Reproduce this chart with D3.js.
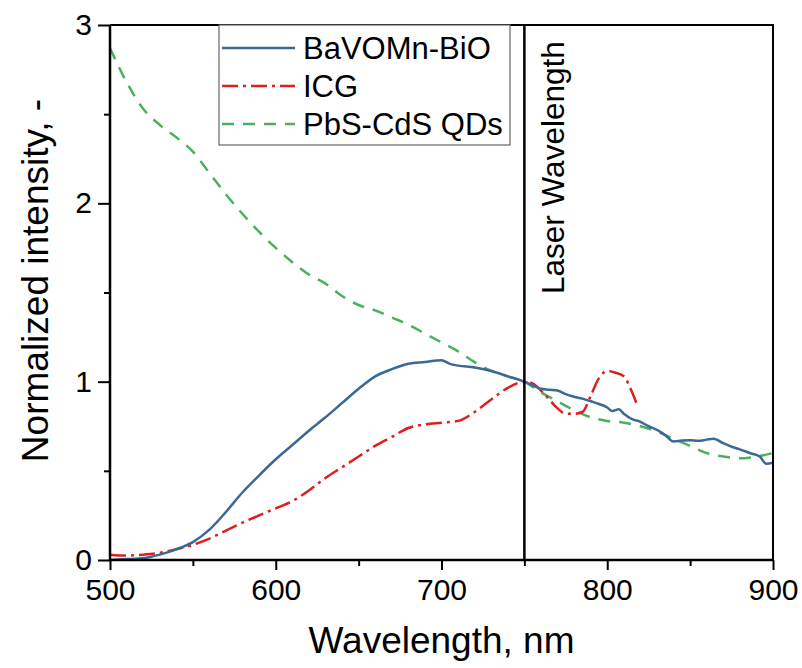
<!DOCTYPE html>
<html><head><meta charset="utf-8">
<script src="https://cdn.jsdelivr.net/npm/d3@7"></script>
<style>body{margin:0;background:#fff}svg{display:block}text{font-family:"Liberation Sans",Arial,sans-serif;fill:#000}</style>
</head><body><svg id="c" width="802" height="668"></svg>
<script>
const wlBlue = [500,510,520,530,540,550,560,570,580,590,600,610,620,630,640,650,660,670,680,690,700,705,710,720,730,740,750,755,760,765,770,775,780,785,790,795,800,803,807,810,815,820,825,830,835,840,845,850,855,860,864,870,876,880,886,892,896,900];
const valBlue = [0.00,0.005,0.01,0.03,0.06,0.10,0.17,0.27,0.38,0.475,0.565,0.645,0.725,0.80,0.88,0.96,1.03,1.07,1.10,1.11,1.12,1.10,1.09,1.08,1.06,1.03,1.00,0.98,0.96,0.955,0.95,0.93,0.915,0.905,0.89,0.875,0.855,0.835,0.845,0.82,0.79,0.775,0.75,0.73,0.70,0.665,0.67,0.672,0.668,0.675,0.68,0.655,0.632,0.62,0.60,0.58,0.54,0.545];
const wlRed = [500,510,520,530,540,550,560,570,580,590,600,610,620,630,640,650,660,670,680,690,700,710,720,730,740,750,755,760,765,770,775,780,785,790,795,800,805,810,815,818];
const valRed = [0.03,0.025,0.03,0.04,0.06,0.085,0.12,0.165,0.21,0.25,0.29,0.33,0.39,0.46,0.52,0.58,0.64,0.69,0.74,0.76,0.77,0.78,0.83,0.90,0.965,1.00,0.99,0.95,0.90,0.85,0.82,0.82,0.83,0.92,1.02,1.06,1.05,1.03,0.94,0.87];
const wlGreen = [500,510,520,530,540,550,560,570,580,590,600,610,620,630,640,650,660,670,680,690,700,710,720,730,740,750,760,770,780,790,800,810,820,830,840,850,860,870,880,890,900];
const valGreen = [2.87,2.68,2.53,2.44,2.37,2.29,2.17,2.05,1.94,1.84,1.75,1.67,1.60,1.55,1.48,1.43,1.40,1.36,1.32,1.27,1.22,1.17,1.11,1.06,1.03,1.00,0.94,0.89,0.84,0.80,0.78,0.77,0.75,0.72,0.68,0.64,0.60,0.58,0.57,0.58,0.60];
const seriesNames = ["BaVOMn-BiO","ICG","PbS-CdS QDs"];
const xTicks = [500,600,700,800,900];
const xMinor = [550,650,750,850];
const yTicks = [0,1,2,3];
const yMinor = [0.5,1.5,2.5];
const laserWl = 750;

const svg = d3.select("#c");
const L=110,R=773,T=25,B=560;
const x = d3.scaleLinear().domain([500,900]).range([L,R]);
const y = d3.scaleLinear().domain([0,3]).range([B,T]);

const series = [
 {name:seriesNames[0], wl:wlBlue, v:valBlue, color:"#3b6894", dash:null},
 {name:seriesNames[1], wl:wlRed, v:valRed, color:"#dc2020", dash:"16,5,3,5"},
 {name:seriesNames[2], wl:wlGreen, v:valGreen, color:"#4caf5e", dash:"12,9"}
];
const line = d3.line().x(d=>x(d[0])).y(d=>y(d[1])).curve(d3.curveMonotoneX);
const plot = svg.append("g");
plot.append("defs").append("clipPath").attr("id","cp").append("rect").attr("x",L).attr("y",T).attr("width",R-L).attr("height",B-T);
const lines = plot.append("g").attr("clip-path","url(#cp)");
[2,1,0].forEach(i=>{
  const s=series[i];
  lines.append("path").datum(s.wl.map((w,j)=>[w,s.v[j]]))
    .attr("d",line).attr("fill","none").attr("stroke",s.color).attr("stroke-width",2.5)
    .attr("stroke-dasharray",s.dash).attr("stroke-linejoin","round");
});

// laser line
svg.append("line").attr("x1",x(laserWl)).attr("x2",x(laserWl)).attr("y1",T).attr("y2",B).attr("stroke","#000").attr("stroke-width",2.5);

// axes
const xAxis = svg.append("g").attr("transform",`translate(0,${B})`)
  .call(d3.axisBottom(x).tickValues(xTicks).tickSize(10).tickPadding(9).tickFormat(d3.format("d")));
svg.append("g").attr("transform",`translate(0,${B})`)
  .call(d3.axisBottom(x).tickValues(xMinor).tickSize(6).tickFormat(""))
  .call(g=>g.select(".domain").remove());
const yAxis = svg.append("g").attr("transform",`translate(${L},0)`)
  .call(d3.axisLeft(y).tickValues(yTicks).tickSize(12).tickPadding(6).tickFormat(d3.format("d")));
svg.append("g").attr("transform",`translate(${L},0)`)
  .call(d3.axisLeft(y).tickValues(yMinor).tickSize(6).tickFormat(""))
  .call(g=>g.select(".domain").remove());
svg.selectAll(".domain").attr("stroke-width",2.5);
xAxis.select(".domain").attr("d",`M${L},0H${R}`);
yAxis.select(".domain").attr("d",`M0,${B}V${T}`);
svg.selectAll(".tick line").attr("stroke-width",2);
svg.selectAll(".tick text").attr("font-size",30).style("font-family",'"Liberation Sans",Arial,sans-serif');
// top/right border
svg.append("path").attr("d",`M${L},${T}H${R}V${B}`).attr("fill","none").attr("stroke","#000").attr("stroke-width",2);

// axis titles
svg.append("text").attr("x",(L+R)/2).attr("y",653).attr("text-anchor","middle").attr("font-size",37).text("Wavelength, nm");
svg.append("text").attr("transform",`translate(48,${(T+B)/2 - 12}) rotate(-90)`).attr("text-anchor","middle").attr("font-size",37).text("Normalized intensity, -");

// laser text
svg.append("text").attr("transform",`translate(564,294) rotate(-90)`).attr("text-anchor","start").attr("font-size",31.5).text("Laser Wavelength");

// legend
const lg = svg.append("g");
lg.append("rect").attr("x",219).attr("y",T).attr("width",291).attr("height",120).attr("fill","#fff").attr("stroke","#666").attr("stroke-width",1.2);
series.forEach((s,i)=>{
  const cy = 48 + i*38;
  lg.append("line").attr("x1",222).attr("x2",295).attr("y1",cy).attr("y2",cy).attr("stroke",s.color).attr("stroke-width",2.5).attr("stroke-dasharray",s.dash);
  lg.append("text").attr("x",303).attr("y",cy+11).attr("font-size",31).text(s.name);
});
</script></body></html>
